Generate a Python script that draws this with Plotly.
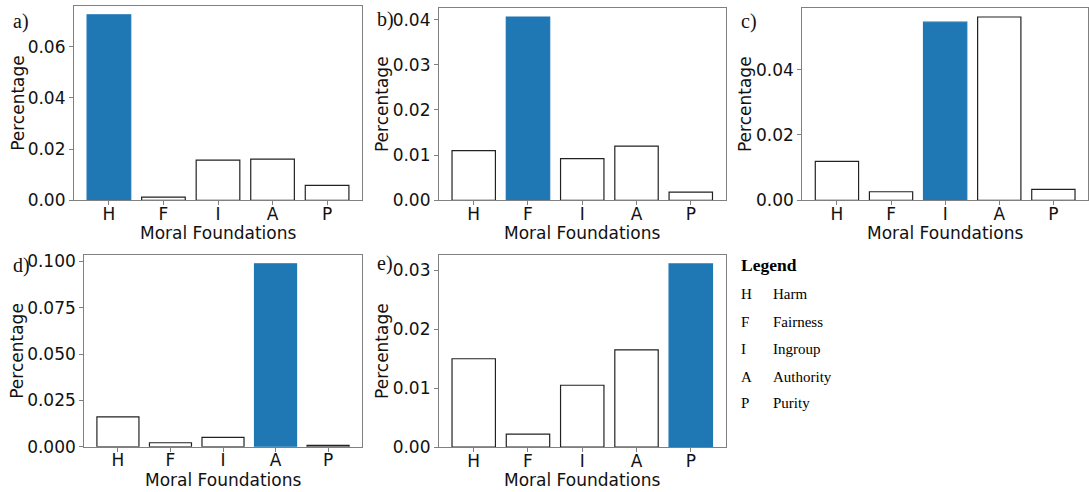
import plotly.graph_objects as go

W, H = 1089, 492

categories = ["H", "F", "I", "A", "P"]
panel_labels = ["a)", "b)", "c)", "d)", "e)"]
highlight = ["H", "F", "I", "A", "P"]

vals_a = [0.0725, 0.0012, 0.0157, 0.0161, 0.0058]
vals_b = [0.0110, 0.0406, 0.0092, 0.0120, 0.0018]
vals_c = [0.0119, 0.0026, 0.0545, 0.0561, 0.0033]
vals_d = [0.0161, 0.0022, 0.0051, 0.0986, 0.0008]
vals_e = [0.0150, 0.0022, 0.0105, 0.0165, 0.0311]

ytick_vals = [
    [0.00, 0.02, 0.04, 0.06],
    [0.00, 0.01, 0.02, 0.03, 0.04],
    [0.00, 0.02, 0.04],
    [0.000, 0.025, 0.050, 0.075, 0.100],
    [0.00, 0.01, 0.02, 0.03],
]
ytick_text = [
    ["0.00", "0.02", "0.04", "0.06"],
    ["0.00", "0.01", "0.02", "0.03", "0.04"],
    ["0.00", "0.02", "0.04"],
    ["0.000", "0.025", "0.050", "0.075", "0.100"],
    ["0.00", "0.01", "0.02", "0.03"],
]

legend_codes = ["H", "F", "I", "A", "P"]
legend_names = ["Harm", "Fairness", "Ingroup", "Authority", "Purity"]

series = [vals_a, vals_b, vals_c, vals_d, vals_e]


def py(y):
    # pixel row on the photographed page -> paper fraction (page is drawn
    # slightly squeezed vertically when photographed)
    return 1 - ((y - 3.5) / 0.97) / H


boxes = [
    (74, 362, 6, 200),
    (439, 725.5, 8.3, 200),
    (802.3, 1088, 8.3, 200),
    (84.3, 361.7, 254.3, 445.7),
    (439, 725.5, 254.3, 446),
]
panel_label_pos = [(21, 22), (385, 20), (749, 22), (21, 265), (385, 263)]
ytitle_x = [18, 382, 745, 17, 382]

BLUE = "#1f77b4"
GRAY = "#808080"
TICKFONT = dict(family="DejaVu Sans", size=17, color="#111111")

fig = go.Figure()
annotations = []
layout = {}

for i, vals in enumerate(series):
    n = "" if i == 0 else str(i + 1)
    xa, ya = "x" + n, "y" + n
    colors = [BLUE if c == highlight[i] else "white" for c in categories]
    lcolors = [BLUE if c == highlight[i] else "#222222" for c in categories]
    fig.add_trace(go.Bar(
        x=categories, y=vals, xaxis=xa, yaxis=ya, width=0.8,
        marker=dict(color=colors, line=dict(color=lcolors, width=1.2)),
        showlegend=False,
    ))
    l, r, t, b = boxes[i]
    ymax = max(vals) * 1.05
    layout["xaxis" + n] = dict(
        domain=[l / W, r / W], anchor=ya, type="category",
        categoryorder="array", categoryarray=categories,
        range=[-0.64, 4.64], showline=True, mirror=True, linecolor=GRAY,
        linewidth=1.2, ticks="outside", ticklen=4, tickcolor=GRAY,
        tickfont=TICKFONT, showgrid=False, zeroline=False, fixedrange=True,
    )
    layout["yaxis" + n] = dict(
        domain=[py(b), py(t)], anchor=xa, range=[0, ymax],
        showline=True, mirror=True, linecolor=GRAY, linewidth=1.2,
        ticks="outside", ticklen=4, tickcolor=GRAY, tickfont=TICKFONT,
        tickvals=ytick_vals[i], ticktext=ytick_text[i],
        showgrid=False, zeroline=False, fixedrange=True,
    )
    annotations.append(dict(
        text="Moral Foundations", xref="paper", yref="paper",
        x=(l + r) / 2 / W, y=py(b + 33), xanchor="center", yanchor="middle",
        showarrow=False, font=dict(family="DejaVu Sans", size=17, color="#111111"),
    ))
    annotations.append(dict(
        text="Percentage", xref="paper", yref="paper", textangle=-90,
        x=ytitle_x[i] / W, y=py((t + b) / 2), xanchor="center", yanchor="middle",
        showarrow=False, font=dict(family="DejaVu Sans", size=17, color="#111111"),
    ))
    px, pyy = panel_label_pos[i]
    annotations.append(dict(
        text=panel_labels[i], xref="paper", yref="paper",
        x=px / W, y=py(pyy), xanchor="center", yanchor="middle",
        showarrow=False, font=dict(family="Liberation Serif", size=20, color="#111111"),
    ))

annotations.append(dict(
    text="<b>Legend</b>", xref="paper", yref="paper", x=739 / W, y=py(265),
    xanchor="left", yanchor="middle", showarrow=False,
    font=dict(family="Liberation Serif", size=17.5, color="black"),
))
row_y = [293.3, 321, 348.3, 375.7, 402.3]
for code, name, yy in zip(legend_codes, legend_names, row_y):
    annotations.append(dict(
        text=code, xref="paper", yref="paper", x=739 / W, y=py(yy),
        xanchor="left", yanchor="middle", showarrow=False,
        font=dict(family="Liberation Serif", size=15, color="black"),
    ))
    annotations.append(dict(
        text=name, xref="paper", yref="paper", x=770.5 / W, y=py(yy),
        xanchor="left", yanchor="middle", showarrow=False,
        font=dict(family="Liberation Serif", size=15, color="black"),
    ))

fig.update_layout(
    width=W, height=H, margin=dict(l=0, r=0, t=0, b=0),
    paper_bgcolor="white", plot_bgcolor="white",
    annotations=annotations, bargap=0.2, **layout,
)

try:
    fig.update_xaxes(ticklabelstandoff=-6)
except Exception:
    pass

fig.write_html("out.html", config={"displayModeBar": False})
